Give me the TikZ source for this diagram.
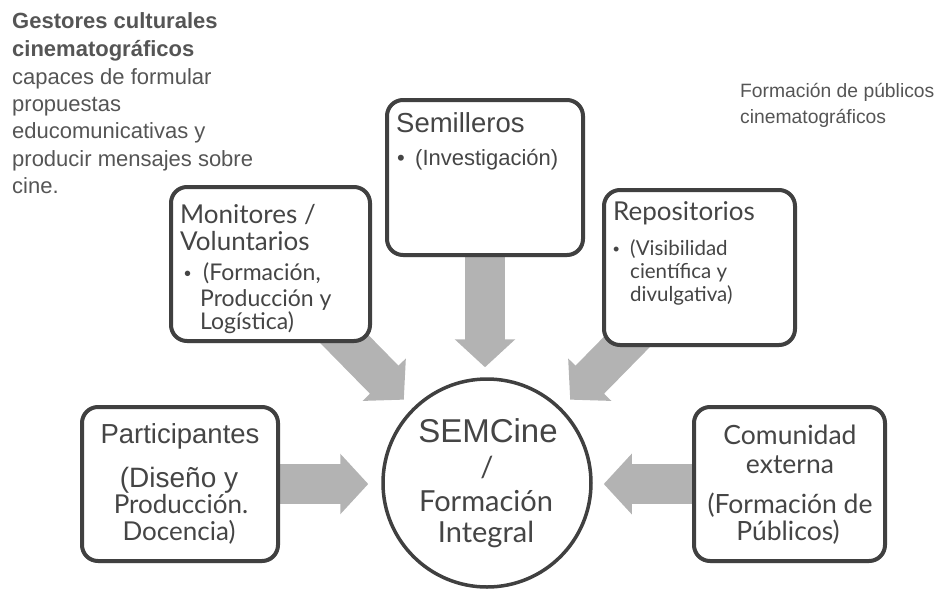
\documentclass[tikz,border=0pt]{standalone}
\usepackage{fontspec}
\setmainfont{Liberation Sans}
\newfontfamily\gill{Lato}
\usetikzlibrary{arrows.meta,shadows,calc}
\definecolor{bordc}{HTML}{404040}
\definecolor{textc}{HTML}{454545}
\definecolor{headc}{HTML}{555555}
\definecolor{arrowc}{HTML}{B3B3B3}
\pgfdeclarelayer{bg}
\pgfsetlayers{bg,main}
\newcommand\fs[1]{\fontsize{#1}{#1}\selectfont}
\tikzset{
  box/.style={draw=bordc, line width=4pt, rounded corners=16pt, fill=white, inner sep=0pt,
    drop shadow={shadow xshift=1pt, shadow yshift=-2pt, opacity=0.25}},
  hub/.style={circle, draw=bordc, line width=3.5pt, fill=white, inner sep=0pt, minimum size=208pt},
  txt/.style={inner sep=0pt, text=textc},
  tl/.style={inner sep=0pt, text=headc, anchor=base west},
  blockarrow/.style={draw=arrowc, line width=40pt, -{Triangle[width=59pt,length=28pt]}},
}
\begin{document}
\begin{tikzpicture}[x=1pt,y=-1pt]
\useasboundingbox (0,0) rectangle (938,590);

% boxes
\node[box, minimum width=199pt, minimum height=154pt] (mon) at (270.5,264) {};
\node[box, minimum width=196pt, minimum height=155pt] (sem) at (485,177.5) {};
\node[box, minimum width=191pt, minimum height=155pt] (rep) at (699.5,267.5) {};
\node[box, minimum width=196pt, minimum height=154pt] (par) at (180,484) {};
\node[box, minimum width=191pt, minimum height=154pt] (com) at (789.5,484) {};
\node[hub] (circ) at (487,483) {};

% free ends of the diagonal arrows (hidden behind the boxes)
\coordinate (dls) at (306,300);
\coordinate (drs) at (668,300);

\begin{pgfonlayer}{bg}
\draw[blockarrow, shorten >=13pt] (par.east) -- (par.east -| circ.west);
\draw[blockarrow, shorten >=11pt] (com.west) -- (com.west -| circ.east);
\draw[blockarrow, shorten >=10pt] (sem.south) -- (sem.south |- circ.north);
\draw[blockarrow, shorten >=12pt] (dls) -- (circ.135);
\draw[blockarrow, shorten >=12pt] (drs) -- (circ.45);
\end{pgfonlayer}

% top-left text
\node[tl, font=\fs{22}\bfseries] (g1) at (12,28) {Gestores culturales};
\node[tl, font=\fs{22}\bfseries] (g2) at (12,56) {cinematográficos};
\node[tl, font=\fs{22}] (g3) at (12,84) {capaces de formular};
\node[tl, font=\fs{22}] (g4) at (12,111) {propuestas};
\node[tl, font=\fs{22}] (g5) at (12,138) {educomunicativas y};
\node[tl, font=\fs{22}] (g6) at (12,166) {producir mensajes sobre};
\node[tl, font=\fs{22}] (g7) at (12,193) {cine.};

% top-right text
\node[tl, font=\fs{19.3}] (f1) at (740,97) {Formación de públicos};
\node[tl, font=\fs{19.3}] (f2) at (740,123) {cinematográficos};

% Semilleros
\node[txt, anchor=base west, font=\fs{27.5}] (s1) at (396,132) {Semilleros};
\node[txt, anchor=base west, font=\fs{22}] (s2) at (397,165) {•};
\node[txt, anchor=base west, font=\fs{22}] (s3) at (415,165) {(Investigación)};

% Monitores
\node[txt, anchor=base west, font=\gill\fs{26}] (m1) at (180,223) {Monitores /};
\node[txt, anchor=base west, font=\gill\fs{26}] (m2) at (180,250) {Voluntarios};
\node[txt, anchor=base west, font=\fs{20}] (m3) at (184,280) {•};
\node[txt, anchor=base west, font=\gill\fs{23}] (m4) at (203,280) {(Formación,};
\node[txt, anchor=base west, font=\gill\fs{23}] (m5) at (200,306) {Producción y};
\node[txt, anchor=base west, font=\gill\fs{23}] (m6) at (200,329) {Logística)};

% Repositorios
\node[txt, anchor=base west, font=\gill\fs{26}] (r1) at (613,220) {Repositorios};
\node[txt, anchor=base west, font=\fs{18}] (r2) at (613,255) {•};
\node[txt, anchor=base west, font=\gill\fs{20.5}] (r3) at (630,255) {(Visibilidad};
\node[txt, anchor=base west, font=\gill\fs{20.5}] (r4) at (630,278) {científica y};
\node[txt, anchor=base west, font=\gill\fs{20.5}] (r5) at (630,301) {divulgativa)};

% Participantes
\node[txt, anchor=base, font=\fs{27.5}] (p1) at (180,443) {Participantes};
\node[txt, anchor=base, font=\fs{28}] (p2) at (179,487) {(Diseño y};
\node[txt, anchor=base, font=\gill\fs{26}] (p3) at (181,513) {Producción.};
\node[txt, anchor=base, font=\gill\fs{26}] (p4) at (179,540) {Docencia)};

% Comunidad externa
\node[txt, anchor=base, font=\gill\fs{26.5}] (c1) at (790,444) {Comunidad};
\node[txt, anchor=base, font=\gill\fs{26.5}] (c2) at (790,473) {externa};
\node[txt, anchor=base, font=\gill\fs{26.5}] (c3) at (790,513) {(Formación de};
\node[txt, anchor=base, font=\gill\fs{26.5}] (c4) at (788,540) {Públicos)};

% hub text
\node[txt, anchor=base, font=\fs{33}] (h1) at (488,442) {SEMCine};
\node[txt, anchor=base, font=\gill\fs{29}] (h2) at (487,477) {/};
\node[txt, anchor=base, font=\gill\fs{29}] (h3) at (486,511) {Formación};
\node[txt, anchor=base, font=\gill\fs{29}] (h4) at (486,542) {Integral};
\end{tikzpicture}
\end{document}
